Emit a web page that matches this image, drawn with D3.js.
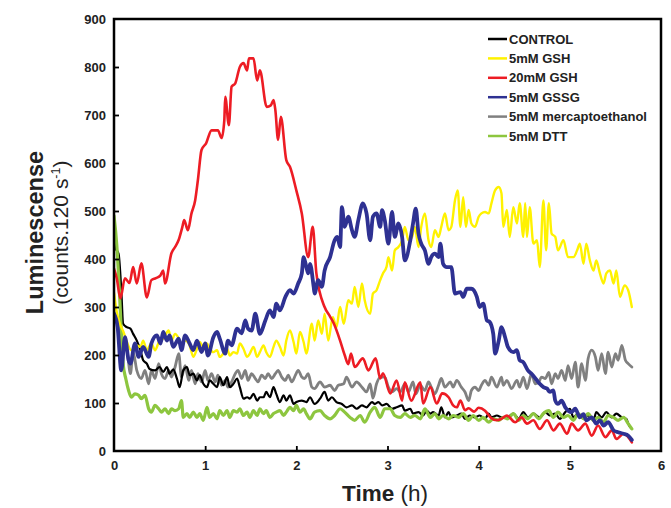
<!DOCTYPE html>
<html><head><meta charset="utf-8">
<script src="https://cdn.jsdelivr.net/npm/d3@7"></script>
<style>
html,body{margin:0;padding:0;background:#fff;}
svg{display:block;font-family:"Liberation Sans",Arial,sans-serif;}
</style></head>
<body>
<svg id="chart" width="671" height="508"></svg>
<script>
// ---- data: [time (h), luminescence (counts.120 s-1)] ----
const seriesNames = ["CONTROL","5mM GSH","20mM GSH","5mM GSSG","5mM mercaptoethanol","5mM DTT"];
const seriesColors = ["#000000","#fff200","#ed1c24","#2e3192","#808080","#8dc63f"];
const seriesWidths = [2.2,2.4,2.6,3.8,2.8,3.2];
const xTicks = [0,1,2,3,4,5,6];
const yTicks = [0,100,200,300,400,500,600,700,800,900];

const control = [[0,480],[0.01,425],[0.05,411],[0.08,335],[0.10,265],[0.14,258],[0.18,255],[0.21,244],[0.25,230],[0.29,210],[0.32,189],[0.36,182],[0.39,171],[0.45,168],[0.50,175],[0.54,165],[0.58,175],[0.61,161],[0.65,170],[0.69,151],[0.72,133],[0.76,168],[0.80,175],[0.83,158],[0.87,161],[0.91,147],[0.94,158],[0.98,140],[1.02,133],[1.05,147],[1.09,140],[1.13,133],[1.16,154],[1.20,137],[1.24,154],[1.27,133],[1.31,140],[1.35,151],[1.38,133],[1.42,109],[1.46,112],[1.49,109],[1.53,119],[1.57,105],[1.60,112],[1.64,112],[1.67,123],[1.71,112],[1.75,133],[1.78,119],[1.82,102],[1.86,116],[1.89,105],[1.93,116],[1.97,98],[2.00,102],[2.06,105],[2.11,102],[2.15,112],[2.20,98],[2.26,109],[2.31,123],[2.35,105],[2.39,112],[2.44,102],[2.50,98],[2.55,91],[2.61,95],[2.66,88],[2.72,95],[2.77,91],[2.83,102],[2.86,98],[2.90,102],[2.94,95],[2.99,98],[3.05,88],[3.10,91],[3.16,95],[3.19,84],[3.25,88],[3.28,78],[3.34,81],[3.39,74],[3.43,84],[3.47,78],[3.50,81],[3.56,74],[3.59,91],[3.63,70],[3.67,81],[3.70,70],[3.76,74],[3.81,78],[3.85,67],[3.90,74],[3.96,70],[4.01,74],[4.07,67],[4.11,78],[4.14,70],[4.20,74],[4.25,70],[4.31,70],[4.38,78],[4.44,67],[4.49,81],[4.54,70],[4.60,78],[4.67,70],[4.73,81],[4.78,74],[4.84,78],[4.89,67],[4.95,81],[5.00,88],[5.04,70],[5.09,78],[5.15,67],[5.20,74],[5.26,64],[5.29,81],[5.35,70],[5.40,81],[5.46,70],[5.51,78],[5.57,70],[5.62,67],[5.64,57],[5.66,50]];

const gsh5 = [[0,330],[0.03,290],[0.07,262],[0.10,250],[0.14,228],[0.19,210],[0.25,220],[0.29,217],[0.32,230],[0.36,210],[0.41,224],[0.45,210],[0.50,230],[0.54,234],[0.60,251],[0.63,230],[0.67,244],[0.71,234],[0.74,220],[0.78,230],[0.83,220],[0.87,196],[0.91,213],[0.94,227],[0.98,217],[1.02,224],[1.05,213],[1.09,206],[1.13,210],[1.16,196],[1.20,203],[1.24,213],[1.27,199],[1.31,206],[1.35,203],[1.38,224],[1.42,213],[1.46,196],[1.49,203],[1.53,217],[1.57,196],[1.60,206],[1.64,220],[1.67,206],[1.71,196],[1.75,217],[1.78,230],[1.82,217],[1.86,199],[1.89,230],[1.93,251],[1.97,227],[2.00,203],[2.04,248],[2.08,227],[2.11,203],[2.17,265],[2.20,230],[2.24,272],[2.28,244],[2.31,286],[2.35,230],[2.40,279],[2.44,258],[2.48,300],[2.52,265],[2.57,314],[2.61,307],[2.64,342],[2.68,300],[2.72,349],[2.75,314],[2.81,286],[2.84,328],[2.88,335],[2.92,356],[2.95,370],[2.99,384],[3.01,404],[3.05,376],[3.08,418],[3.12,425],[3.16,439],[3.19,467],[3.23,439],[3.27,446],[3.30,467],[3.34,425],[3.37,467],[3.41,495],[3.45,439],[3.48,425],[3.52,460],[3.56,446],[3.59,467],[3.63,495],[3.67,460],[3.70,467],[3.74,522],[3.77,543],[3.80,467],[3.83,529],[3.86,467],[3.89,502],[3.92,474],[3.96,467],[4.00,488],[4.03,495],[4.07,498],[4.11,495],[4.14,516],[4.18,543],[4.22,550],[4.25,537],[4.27,467],[4.31,502],[4.34,446],[4.38,508],[4.42,474],[4.45,516],[4.49,446],[4.51,516],[4.53,446],[4.56,508],[4.60,432],[4.64,439],[4.67,383],[4.71,522],[4.74,418],[4.77,516],[4.80,453],[4.84,446],[4.87,418],[4.93,439],[4.98,404],[5.04,404],[5.08,418],[5.11,432],[5.15,390],[5.18,432],[5.22,397],[5.26,376],[5.29,397],[5.33,370],[5.37,349],[5.40,370],[5.44,376],[5.48,349],[5.51,376],[5.55,321],[5.60,345],[5.64,335],[5.68,300]];

const gsh20 = [[0,380],[0.03,360],[0.07,318],[0.12,360],[0.17,350],[0.21,383],[0.25,349],[0.30,391],[0.36,320],[0.41,356],[0.46,360],[0.51,366],[0.54,376],[0.56,349],[0.63,412],[0.67,425],[0.71,440],[0.75,467],[0.77,481],[0.81,460],[0.85,495],[0.89,522],[0.92,564],[0.96,627],[1.01,641],[1.07,668],[1.14,668],[1.18,652],[1.21,689],[1.22,738],[1.26,679],[1.29,759],[1.33,766],[1.38,800],[1.42,808],[1.46,793],[1.48,818],[1.53,818],[1.57,772],[1.60,793],[1.675,717],[1.72,720],[1.75,731],[1.77,710],[1.80,648],[1.83,696],[1.89,606],[1.93,592],[2.00,543],[2.06,495],[2.13,404],[2.18,467],[2.22,370],[2.31,300],[2.37,280],[2.41,266],[2.48,230],[2.53,200],[2.57,181],[2.60,203],[2.64,175],[2.73,193],[2.79,168],[2.87,193],[2.92,151],[2.95,162],[3.03,120],[3.10,147],[3.16,105],[3.19,143],[3.26,105],[3.36,143],[3.39,99],[3.47,133],[3.54,99],[3.60,120],[3.67,112],[3.72,95],[3.76,91],[3.80,105],[3.85,85],[3.89,89],[3.95,82],[4.00,90],[4.07,84],[4.13,70],[4.20,64],[4.25,67],[4.31,74],[4.40,60],[4.47,70],[4.53,57],[4.60,64],[4.67,46],[4.75,64],[4.82,43],[4.89,57],[4.97,36],[5.02,57],[5.09,43],[5.17,57],[5.24,32],[5.31,53],[5.39,29],[5.46,43],[5.51,25],[5.59,36],[5.68,18]];

const gssg5 = [[0,286],[0.04,258],[0.08,168],[0.12,237],[0.16,189],[0.18,182],[0.23,224],[0.27,196],[0.32,217],[0.38,196],[0.41,224],[0.47,241],[0.51,224],[0.54,248],[0.58,230],[0.61,241],[0.65,217],[0.71,234],[0.74,210],[0.78,241],[0.83,224],[0.87,210],[0.91,230],[0.96,206],[1.00,224],[1.03,199],[1.09,237],[1.13,248],[1.16,234],[1.22,203],[1.25,230],[1.29,220],[1.35,255],[1.40,245],[1.44,272],[1.47,255],[1.51,251],[1.55,286],[1.60,244],[1.66,272],[1.71,293],[1.75,279],[1.78,307],[1.82,293],[1.88,321],[1.93,335],[1.97,328],[2.02,349],[2.06,370],[2.08,404],[2.11,383],[2.13,370],[2.15,390],[2.19,342],[2.20,328],[2.24,356],[2.28,342],[2.31,376],[2.37,404],[2.42,439],[2.45,446],[2.48,425],[2.50,508],[2.53,467],[2.57,488],[2.61,460],[2.64,446],[2.68,481],[2.73,516],[2.77,495],[2.81,439],[2.84,488],[2.88,495],[2.92,467],[2.94,502],[2.97,481],[3.01,432],[3.05,498],[3.08,446],[3.12,474],[3.16,446],[3.19,397],[3.25,439],[3.28,474],[3.31,505],[3.34,453],[3.37,432],[3.41,418],[3.45,390],[3.48,404],[3.52,411],[3.56,404],[3.58,432],[3.61,390],[3.65,383],[3.70,383],[3.74,328],[3.80,331],[3.83,321],[3.87,338],[3.92,338],[3.98,321],[4.01,300],[4.05,307],[4.09,272],[4.12,269],[4.16,244],[4.18,203],[4.22,230],[4.25,258],[4.29,237],[4.32,217],[4.38,206],[4.42,210],[4.45,189],[4.49,185],[4.54,168],[4.58,161],[4.64,147],[4.67,140],[4.71,133],[4.75,130],[4.78,123],[4.82,126],[4.84,105],[4.87,98],[4.91,105],[4.95,91],[5.02,81],[5.06,88],[5.11,70],[5.15,77],[5.18,64],[5.24,70],[5.29,57],[5.33,64],[5.37,53],[5.42,60],[5.48,43],[5.53,39],[5.59,36],[5.64,32],[5.68,23]];

const merc5 = [[0,290],[0.03,270],[0.07,235],[0.10,215],[0.14,210],[0.18,161],[0.21,206],[0.25,168],[0.30,151],[0.34,168],[0.38,140],[0.41,168],[0.45,151],[0.49,182],[0.52,161],[0.56,151],[0.60,168],[0.63,154],[0.67,175],[0.71,203],[0.74,154],[0.78,178],[0.82,147],[0.85,168],[0.89,140],[0.92,161],[0.96,144],[1.00,168],[1.03,147],[1.07,161],[1.11,144],[1.14,158],[1.18,137],[1.22,147],[1.25,133],[1.29,144],[1.33,161],[1.36,168],[1.40,151],[1.44,168],[1.47,147],[1.51,161],[1.55,151],[1.58,144],[1.62,158],[1.66,151],[1.69,161],[1.73,151],[1.77,161],[1.80,168],[1.84,154],[1.88,147],[1.91,158],[1.95,144],[1.99,158],[2.02,168],[2.06,154],[2.09,151],[2.13,161],[2.17,133],[2.20,130],[2.26,144],[2.31,133],[2.37,137],[2.42,126],[2.46,137],[2.52,140],[2.55,154],[2.61,133],[2.66,144],[2.72,133],[2.77,123],[2.81,140],[2.84,110],[2.88,140],[2.92,154],[2.97,154],[3.01,133],[3.05,123],[3.10,130],[3.14,123],[3.19,140],[3.23,123],[3.28,144],[3.31,119],[3.36,137],[3.41,126],[3.45,144],[3.48,133],[3.52,119],[3.56,137],[3.59,151],[3.63,133],[3.69,144],[3.72,133],[3.76,147],[3.81,133],[3.85,123],[3.89,105],[3.92,126],[3.96,133],[4.00,126],[4.03,137],[4.07,147],[4.11,137],[4.14,154],[4.20,133],[4.25,154],[4.27,137],[4.31,147],[4.36,130],[4.42,147],[4.45,133],[4.49,154],[4.53,130],[4.58,161],[4.62,140],[4.66,144],[4.69,154],[4.73,151],[4.77,164],[4.80,140],[4.84,161],[4.87,151],[4.91,168],[4.95,147],[4.98,178],[5.02,151],[5.06,185],[5.09,133],[5.13,182],[5.17,147],[5.20,192],[5.24,210],[5.28,196],[5.31,168],[5.35,203],[5.39,161],[5.42,206],[5.46,175],[5.50,203],[5.53,189],[5.57,220],[5.61,189],[5.64,182],[5.68,175]];

const dtt5 = [[0,490],[0.03,430],[0.06,330],[0.08,250],[0.10,182],[0.13,150],[0.16,126],[0.19,112],[0.23,119],[0.27,116],[0.30,109],[0.34,116],[0.38,88],[0.41,81],[0.45,95],[0.49,88],[0.52,81],[0.56,88],[0.60,78],[0.63,88],[0.67,84],[0.71,88],[0.74,105],[0.76,70],[0.80,78],[0.83,70],[0.87,81],[0.91,70],[0.94,78],[0.98,64],[1.02,91],[1.05,70],[1.09,78],[1.13,67],[1.16,84],[1.20,74],[1.24,84],[1.27,70],[1.31,84],[1.35,81],[1.38,88],[1.42,74],[1.46,81],[1.49,70],[1.53,84],[1.57,74],[1.60,88],[1.64,78],[1.67,84],[1.71,70],[1.75,78],[1.78,81],[1.82,84],[1.86,74],[1.89,81],[1.93,91],[1.97,84],[2.00,95],[2.04,81],[2.08,88],[2.11,78],[2.15,67],[2.20,81],[2.26,84],[2.31,74],[2.37,67],[2.42,74],[2.48,88],[2.53,81],[2.59,70],[2.64,64],[2.70,74],[2.75,60],[2.81,81],[2.86,91],[2.92,70],[2.97,88],[3.03,88],[3.08,74],[3.14,70],[3.19,78],[3.25,70],[3.30,74],[3.36,67],[3.41,88],[3.47,70],[3.52,78],[3.56,67],[3.61,74],[3.67,67],[3.72,74],[3.78,70],[3.83,78],[3.89,64],[3.94,74],[4.00,64],[4.05,70],[4.11,60],[4.16,67],[4.22,64],[4.27,70],[4.32,67],[4.38,78],[4.44,64],[4.49,74],[4.54,67],[4.60,78],[4.66,67],[4.71,78],[4.77,84],[4.82,70],[4.87,81],[4.93,70],[4.98,74],[5.04,64],[5.09,78],[5.15,67],[5.20,78],[5.26,64],[5.31,70],[5.37,60],[5.42,74],[5.48,70],[5.53,64],[5.59,70],[5.64,57],[5.68,46]];

const allSeries = [control, gsh5, gsh20, gssg5, merc5, dtt5];
// drawing order (back to front)
const drawOrder = [4, 0, 5, 1, 2, 3];

// ---- layout ----
const svg = d3.select("#chart");
const m = {left:114, right:661, top:19, bottom:451};
const x = d3.scaleLinear().domain([0,6]).range([m.left, m.right]);
const y = d3.scaleLinear().domain([0,900]).range([m.bottom, m.top]);

const line = d3.line().x(d=>x(d[0])).y(d=>y(d[1])).curve(d3.curveMonotoneX);

svg.append("defs").append("clipPath").attr("id","clip")
  .append("rect").attr("x",m.left).attr("y",m.top).attr("width",m.right-m.left).attr("height",m.bottom-m.top);

const g = svg.append("g").attr("clip-path","url(#clip)");
drawOrder.forEach(i=>{
  g.append("path").datum(allSeries[i])
    .attr("d",line).attr("fill","none")
    .attr("stroke",seriesColors[i]).attr("stroke-width",seriesWidths[i])
    .attr("stroke-linejoin","round").attr("stroke-linecap","round");
});

// axes with inward ticks
const xAxis = d3.axisBottom(x).tickValues(xTicks).tickSizeInner(-5).tickSizeOuter(0).tickPadding(10).tickFormat(d3.format("d"));
const yAxis = d3.axisLeft(y).tickValues(yTicks).tickSizeInner(-5).tickSizeOuter(0).tickPadding(8).tickFormat(d3.format("d"));
const gx = svg.append("g").attr("transform",`translate(0,${m.bottom})`).call(xAxis);
const gy = svg.append("g").attr("transform",`translate(${m.left},0)`).call(yAxis);
[gx,gy].forEach(a=>{
  a.select(".domain").remove();
  a.selectAll(".tick line").attr("stroke","#000").attr("stroke-width",1.8);
  a.selectAll(".tick text").attr("fill","#222").style("font-size","13px").style("font-weight","bold")
    .style("font-family","'Liberation Sans',Arial,sans-serif");
});
gx.selectAll(".tick").filter(d=>d===0||d===6).select("line").remove();
gy.selectAll(".tick").filter(d=>d===0||d===900).select("line").remove();

// frame
svg.append("rect").attr("x",m.left).attr("y",m.top).attr("width",m.right-m.left).attr("height",m.bottom-m.top)
  .attr("fill","none").attr("stroke","#000").attr("stroke-width",2.5);

// axis titles
const xt = svg.append("text").attr("x",385).attr("y",501).attr("text-anchor","middle")
  .style("font-size","22.5px").attr("fill","#222");
xt.append("tspan").style("font-weight","bold").text("Time ");
xt.append("tspan").text("(h)");

const yt1 = svg.append("text").attr("transform",`translate(43,${y(455)}) rotate(-90)`)
  .attr("text-anchor","middle").style("font-size","23.5px").style("font-weight","bold").attr("fill","#222")
  .text("Luminescense");
const yt2 = svg.append("text").attr("transform",`translate(68,${y(455)}) rotate(-90)`)
  .attr("text-anchor","middle").style("font-size","21px").attr("fill","#222");
yt2.append("tspan").text("(counts.120 s");
yt2.append("tspan").attr("dy",-8).style("font-size","12.5px").text("-1");
yt2.append("tspan").attr("dy",8).text(")");

// legend
const lg = svg.append("g");
seriesNames.forEach((name,i)=>{
  const yy = 39 + i*19.4;
  lg.append("line").attr("x1",488).attr("x2",507).attr("y1",yy).attr("y2",yy)
    .attr("stroke",seriesColors[i]).attr("stroke-width",2.5);
  lg.append("text").attr("x",509).attr("y",yy).attr("dy","0.36em")
    .style("font-size","13px").style("font-weight","bold").attr("fill","#222").text(name);
});
</script>
</body></html>
